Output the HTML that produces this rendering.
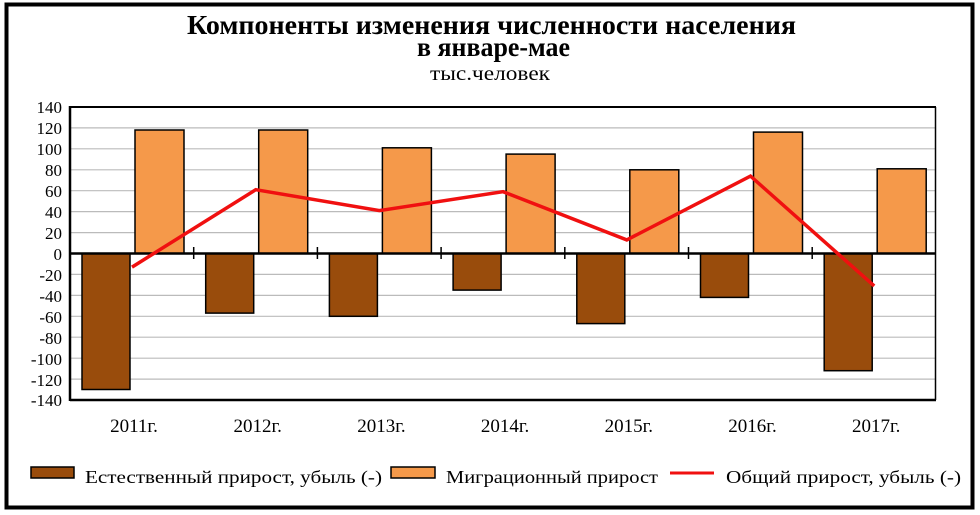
<!DOCTYPE html>
<html><head><meta charset="utf-8"><style>
html,body{margin:0;padding:0;background:#fff}
svg{display:block}
text{font-family:"Liberation Serif","DejaVu Serif",serif;fill:#000}
</style></head><body>
<svg width="980" height="515" viewBox="0 0 980 515" xmlns="http://www.w3.org/2000/svg">
<rect x="0" y="0" width="980" height="515" fill="#fff"/>
<rect x="6.5" y="4.5" width="966" height="503" fill="none" stroke="#000" stroke-width="4"/>
<text x="187" y="34" font-size="27" font-weight="bold" textLength="609" lengthAdjust="spacingAndGlyphs">Компоненты изменения численности населения</text>
<text x="417" y="56" font-size="27" font-weight="bold" textLength="153" lengthAdjust="spacingAndGlyphs">в январе-мае</text>
<text x="430" y="80" font-size="20" textLength="120" lengthAdjust="spacingAndGlyphs">тыс.человек</text>
<g stroke="#bbb" stroke-width="1.2">
<line x1="70" x2="936" y1="127.9" y2="127.9"/><line x1="70" x2="936" y1="148.8" y2="148.8"/>
<line x1="70" x2="936" y1="169.8" y2="169.8"/><line x1="70" x2="936" y1="190.7" y2="190.7"/>
<line x1="70" x2="936" y1="211.6" y2="211.6"/><line x1="70" x2="936" y1="232.6" y2="232.6"/>
<line x1="70" x2="936" y1="274.4" y2="274.4"/><line x1="70" x2="936" y1="295.4" y2="295.4"/>
<line x1="70" x2="936" y1="316.3" y2="316.3"/><line x1="70" x2="936" y1="337.2" y2="337.2"/>
<line x1="70" x2="936" y1="358.2" y2="358.2"/><line x1="70" x2="936" y1="379.1" y2="379.1"/>
</g>
<g font-size="17" text-anchor="end">
<text x="62" y="113">140</text><text x="62" y="134">120</text><text x="62" y="155">100</text>
<text x="62" y="176">80</text><text x="62" y="197">60</text><text x="62" y="218">40</text>
<text x="62" y="239">20</text><text x="62" y="260">0</text><text x="62" y="281">-20</text>
<text x="62" y="302">-40</text><text x="62" y="323">-60</text><text x="62" y="344">-80</text>
<text x="62" y="365">-100</text><text x="62" y="386">-120</text><text x="62" y="406">-140</text>
</g>
<g stroke="#000" stroke-width="1.5">
<rect x="82" y="253.5" width="48" height="136" fill="#994c0c"/>
<rect x="135" y="130" width="49" height="123.5" fill="#f5994a"/>
<rect x="205.7" y="253.5" width="48" height="59.6" fill="#994c0c"/>
<rect x="258.7" y="130" width="49" height="123.5" fill="#f5994a"/>
<rect x="329.4" y="253.5" width="48" height="62.8" fill="#994c0c"/>
<rect x="382.4" y="147.8" width="49" height="105.7" fill="#f5994a"/>
<rect x="453.1" y="253.5" width="48" height="36.6" fill="#994c0c"/>
<rect x="506.1" y="154.1" width="49" height="99.4" fill="#f5994a"/>
<rect x="576.8" y="253.5" width="48" height="70.1" fill="#994c0c"/>
<rect x="629.8" y="169.8" width="49" height="83.7" fill="#f5994a"/>
<rect x="700.5" y="253.5" width="48" height="43.9" fill="#994c0c"/>
<rect x="753.5" y="132.1" width="49" height="121.4" fill="#f5994a"/>
<rect x="824.2" y="253.5" width="48" height="117.2" fill="#994c0c"/>
<rect x="877.2" y="168.8" width="49" height="84.7" fill="#f5994a"/>
</g>
<g stroke="#000" stroke-width="2.5" fill="none">
<line x1="70" y1="106" x2="70" y2="401"/>
<line x1="70" y1="400" x2="936" y2="400"/>
<line x1="70" y1="253.5" x2="936" y2="253.5"/>
</g>
<line x1="70" y1="107" x2="936" y2="107" stroke="#000" stroke-width="2"/>
<line x1="935.5" y1="107" x2="935.5" y2="400" stroke="#000" stroke-width="1.5"/>
<g stroke="#000" stroke-width="1.5">
<line x1="193.7" x2="193.7" y1="247" y2="259"/><line x1="317.4" x2="317.4" y1="247" y2="259"/>
<line x1="441.1" x2="441.1" y1="247" y2="259"/><line x1="564.8" x2="564.8" y1="247" y2="259"/>
<line x1="688.5" x2="688.5" y1="247" y2="259"/><line x1="812.2" x2="812.2" y1="247" y2="259"/>
</g>
<polyline fill="none" stroke="#f01010" stroke-width="3.5" points="132,267.1 255.7,189.7 379.4,210.6 503.1,191.7 626.8,239.9 750.5,176.1 874.2,285.9"/>
<g font-size="19" text-anchor="middle">
<text x="134" y="432">2011г.</text><text x="257.7" y="432">2012г.</text><text x="381.4" y="432">2013г.</text>
<text x="505.1" y="432">2014г.</text><text x="628.8" y="432">2015г.</text><text x="752.5" y="432">2016г.</text>
<text x="876.2" y="432">2017г.</text>
</g>
<rect x="31" y="467" width="43" height="11" fill="#994c0c" stroke="#000" stroke-width="1.5"/>
<text x="85" y="483" font-size="18" textLength="297" lengthAdjust="spacingAndGlyphs">Естественный  прирост,  убыль (-)</text>
<rect x="391" y="467" width="44" height="11" fill="#f5994a" stroke="#000" stroke-width="1.5"/>
<text x="446" y="483" font-size="18" textLength="212" lengthAdjust="spacingAndGlyphs">Миграционный  прирост</text>
<line x1="670" y1="473" x2="714" y2="473" stroke="#f01010" stroke-width="3"/>
<text x="726" y="483" font-size="18" textLength="235" lengthAdjust="spacingAndGlyphs">Общий прирост, убыль (-)</text>
</svg>
</body></html>
